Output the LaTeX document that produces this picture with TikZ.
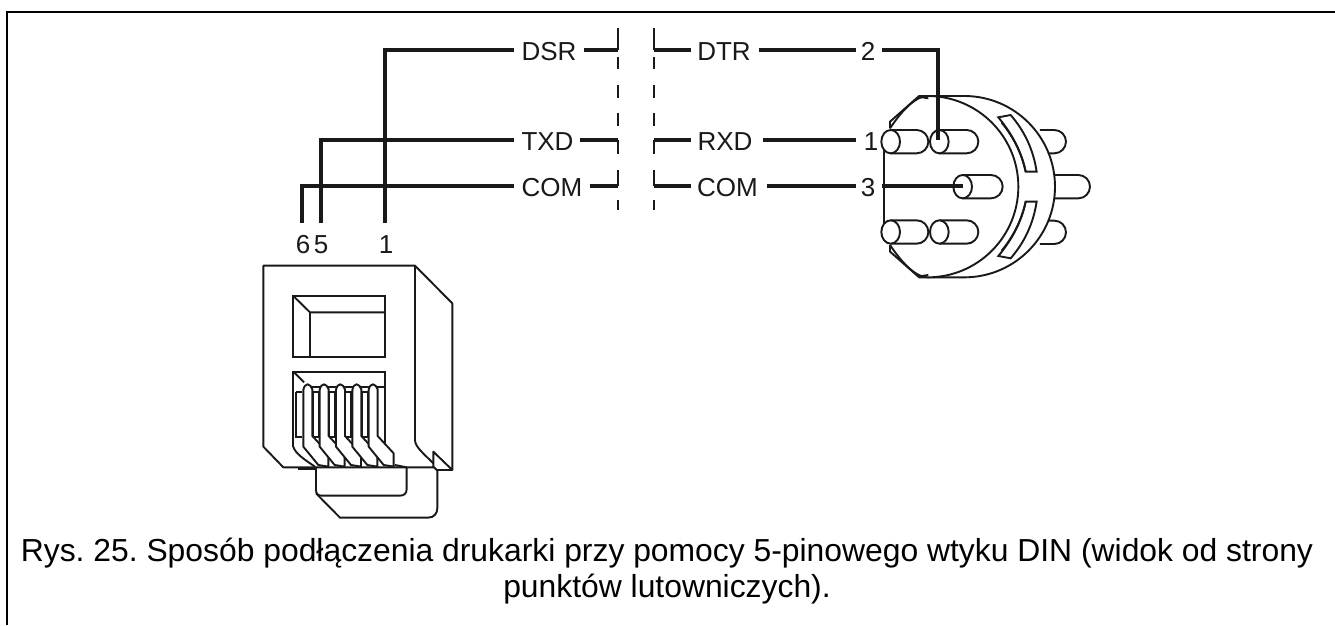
\documentclass[tikz,border=0pt]{standalone}
\usepackage{fontspec}
\setmainfont{Liberation Sans}
\tikzset{
  wire/.style={line width=4pt,draw=black!90},
  fine/.style={line width=1.9pt,draw=black!90},
  cutline/.style={line width=2pt,draw=black!90},
  lab/.style={font=\fontsize{26}{29}\selectfont,text=black!90,inner sep=0pt,anchor=base},
  captxt/.style={font=\fontsize{31.85}{36}\selectfont\frenchspacing,text=black,inner sep=0pt,anchor=base},
  pin/.style={fine,fill=white}
}
\newcommand{\pinbody}[3]{% cx cy len (zoomed units)
  \draw[pin] (#1,#2-35) -- (#1+#3-35,#2-35) arc (90:-90:11.667pt) -- (#1,#2+35);
  \draw[pin] (#1,#2) ellipse (9.33pt and 11.667pt);
}
\begin{document}
\begin{tikzpicture}[x=1pt,y=-1pt]
\useasboundingbox (0,0) rectangle (1335,625);
\fill[white] (0,0) rectangle (1335,625);
% frame
\draw[line width=2.5pt,black] (7,625) -- (7,12) -- (1335,12);
% cut lines
\foreach \x in {617.7,654.3}{
  \foreach \a/\b in {28/50,57/69,85/98,113/126,140/154,170/186,200/210}
    \draw[cutline] (\x,\a) -- (\x,\b);
}
% coordinates
\coordinate (p1) at (385,223);
\coordinate (p5) at (321,223);
\coordinate (p6) at (302.3,223);
\coordinate (cl1) at (617.7,50);
\coordinate (cl2) at (617.7,140);
\coordinate (cl3) at (617.7,185.7);
\coordinate (cr1) at (654.3,50);
\coordinate (cr2) at (654.3,140);
\coordinate (cr3) at (654.3,185.7);
\coordinate (pin2) at (938,140);
\coordinate (pin3) at (963,185.7);
% labels
\node[lab] (dsr) at (549,60) {DSR};
\node[lab] (txd) at (547.5,150) {TXD};
\node[lab] (coml) at (552,196) {COM};
\node[lab] (dtr) at (724,60) {DTR};
\node[lab] (rxd) at (725,150) {RXD};
\node[lab] (comr) at (727.5,196) {COM};
\node[lab] (n2) at (868,60) {2};
\node[lab] (n1) at (871,150) {1};
\node[lab] (n3) at (868,196) {3};
\node[lab] (n6) at (303,253) {6};
\node[lab] (n5) at (321,253) {5};
\node[lab] (n1b) at (386,253) {1};
% DIN plug (zoomed coordinates)
\begin{scope}[shift={(860,30)},x=0.3333pt,y=-0.3333pt]
  % rear pins
  \draw[fine] (540,300) -- (583,300) arc (90:-90:11.667pt) -- (540,370);
  \draw[fine] (585,435) -- (655,435) arc (90:-90:11.667pt) -- (585,505);
  \draw[fine] (540,572) -- (583,572) arc (90:-90:11.667pt) -- (540,642);
  % back disc
  \draw[fine,fill=white] (175,198) -- (313,198) arc (90:-90:90.667pt) -- (175,742);
  % front disc
  \draw[fine,fill=white] (90,295) .. controls (130,235) and (170,198) .. (203,198)
     arc (90:-90:90.667pt) .. controls (170,742) and (130,705) .. (90,645);
  % flange
  \draw[fine] (90,295) -- (90,275) -- (175,200) -- (205,205);
  \draw[fine] (90,645) -- (90,665) -- (175,740) -- (205,735);
  \draw[fine] (73,335) -- (73,606);
  % slots
  \draw[fine,fill=white] (415,262) -- (452,255) .. controls (495,305) and (520,360) .. (530,425)
     -- (497,425) .. controls (485,365) and (455,310) .. cycle;
  \draw[fine] (425,278) .. controls (460,320) and (485,370) .. (497,425);
  \draw[fine,fill=white] (415,678) -- (452,685) .. controls (495,635) and (520,580) .. (530,515)
     -- (497,515) .. controls (485,575) and (455,630) .. cycle;
  \draw[fine] (425,662) .. controls (460,620) and (485,570) .. (497,515);
  % pins
  \pinbody{92}{335}{113}
  \pinbody{238}{335}{117}
  \pinbody{308}{470}{120}
  \pinbody{92}{606}{113}
  \pinbody{238}{606}{117}
\end{scope}
% wires
\draw[wire] (p1) -- (p1 |- cl1) -- ([xshift=-7pt]dsr.west |- cl1);
\draw[wire] (p5) -- (p5 |- cl2) -- ([xshift=-7pt]txd.west |- cl2);
\draw[wire] (p6) -- (p6 |- cl3) -- ([xshift=-7pt]coml.west |- cl3);
\draw[wire] ([xshift=7pt]dsr.east |- cl1) -- (cl1);
\draw[wire] ([xshift=6pt]txd.east |- cl2) -- (cl2);
\draw[wire] ([xshift=7pt]coml.east |- cl3) -- (cl3);
\draw[wire] (cr1) -- ([xshift=-6pt]dtr.west |- cr1);
\draw[wire] (cr2) -- ([xshift=-6pt]rxd.west |- cr2);
\draw[wire] (cr3) -- ([xshift=-6pt]comr.west |- cr3);
\draw[wire] ([xshift=8pt]dtr.east |- cr1) -- ([xshift=-5pt]n2.west |- cr1);
\draw[wire] ([xshift=10pt]rxd.east |- cr2) -- ([xshift=-8pt]n1.west |- cr2);
\draw[wire] ([xshift=9pt]comr.east |- cr3) -- ([xshift=-5pt]n3.west |- cr3);
\draw[wire] ([xshift=7pt]n2.east |- cr1) -- (pin2 |- cr1) -- (pin2);
\draw[wire] ([xshift=7pt]n3.east |- cr3) -- (pin3);
% RJ plug (zoomed coordinates)
\begin{scope}[shift={(220,250)},x=0.3333pt,y=-0.3333pt]
  \draw[fine,line join=round] (640,652) -- (190,652) -- (130,590) -- (130,47) -- (585,47) -- (697,160) -- (697,660) -- (650,660) -- (640,650) -- (640,605) -- (697,660);
  \draw[fine] (585,47) -- (585,570) .. controls (585,590) and (610,610) .. (640,640);
  \draw[fine] (238,652) -- (238,658) -- (288,658);
  % window
  \draw[fine] (220,138) rectangle (495,320);
  \draw[fine] (220,138) -- (270,187) -- (495,187);
  \draw[fine] (270,187) -- (270,320);
  % tab
  \draw[fine] (288,650) -- (288,720) .. controls (288,732) and (295,737) .. (305,737) -- (540,737) .. controls (552,737) and (560,730) .. (560,718) -- (560,652);
  \draw[fine] (288,730) -- (360,803) -- (625,803) .. controls (642,803) and (652,790) .. (652,775) -- (652,660);
  % contact recess
  \draw[fine] (220,590) -- (220,365) -- (495,365) -- (495,580);
  \draw[fine] (220,365) -- (252,397);
  \draw[fine] (270,412) -- (495,412);
  \draw[fine] (228,425) -- (245,425) (228,425) -- (228,560) -- (245,560);
  \draw[fine] (220,590) .. controls (225,610) and (255,630) .. (285,650);
  \foreach \i in {0,1,2,3}{
    \draw[fine] ({278+\i*49},425) rectangle ({296+\i*49},560);
  }
  \foreach \i in {0,1,2,3,4}{
    \begin{scope}[xshift={\i*49*0.3333pt}]
    \draw[fine,fill=white] (250,420) .. controls (252,408) and (258,403) .. (263,403)
      .. controls (268,403) and (275,410) .. (277,418) -- (277,558) -- (325,610) -- (325,650)
      -- (295,645) -- (250,590) -- cycle;
    \end{scope}
  }
  \draw[fine] (525,645) -- (560,652);
\end{scope}
% caption
\node[captxt] (c1) at (667,561) {Rys. 25. Sposób podłączenia drukarki przy pomocy 5-pinowego wtyku DIN (widok od strony};
\node[captxt] (c2) at (667,597) {punktów lutowniczych).};
\end{tikzpicture}
\end{document}
